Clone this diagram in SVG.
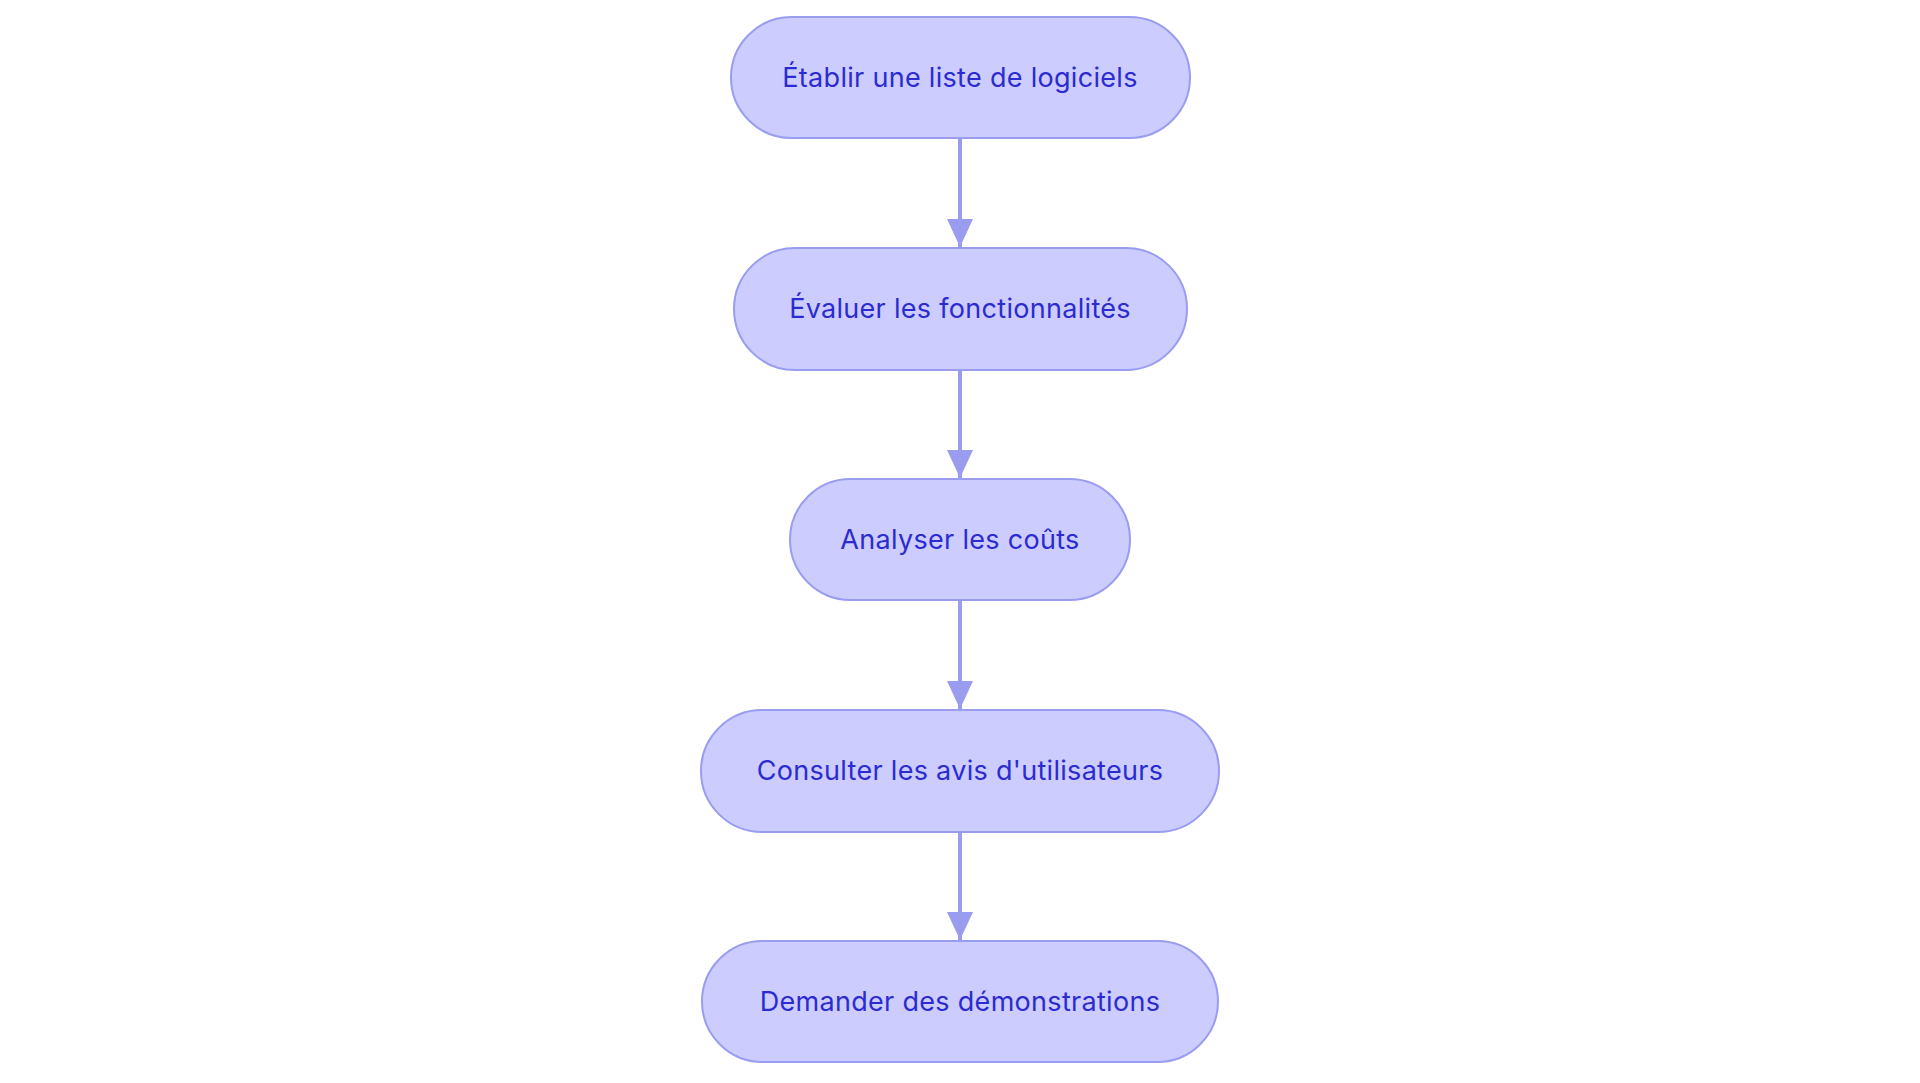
<svg xmlns="http://www.w3.org/2000/svg" width="1920" height="1083" viewBox="0 0 1920 1083">
<style>
.n{fill:#ccccff;stroke:#9a9cf0;stroke-width:2}
.t{font-family:Inter,"Liberation Sans",sans-serif;font-size:27px;letter-spacing:0.3px;fill:#2b2bd0;text-anchor:middle;dominant-baseline:central}
.e{stroke:#9a9cf0;stroke-width:4;fill:none;marker-end:url(#a)}
</style>
<defs><marker id="a" markerWidth="28" markerHeight="26" refX="28" refY="13" orient="auto" markerUnits="userSpaceOnUse" viewBox="0 0 28 26"><path d="M0,0L28,13L0,26z" fill="#9a9cf0"/></marker></defs>
<rect width="1920" height="1083" fill="#fff"/>
<g id="edges">
<path class="e" d="M960,138V247"/>
<path class="e" d="M960,370V478"/>
<path class="e" d="M960,600V709"/>
<path class="e" d="M960,832V940"/>
</g>
<g id="n1"><rect class="n" x="731" y="17" width="459" height="121" rx="60.5"/><text class="t" x="960" y="77">Établir une liste de logiciels</text></g>
<g id="n2"><rect class="n" x="734" y="248" width="453" height="122" rx="61"/><text class="t" x="960" y="308">Évaluer les fonctionnalités</text></g>
<g id="n3"><rect class="n" x="790" y="479" width="340" height="121" rx="60.5"/><text class="t" x="960" y="539">Analyser les coûts</text></g>
<g id="n4"><rect class="n" x="701" y="710" width="518" height="122" rx="61"/><text class="t" x="960" y="770">Consulter les avis d'utilisateurs</text></g>
<g id="n5"><rect class="n" x="702" y="941" width="516" height="121" rx="60.5"/><text class="t" x="960" y="1001">Demander des démonstrations</text></g>
</svg>
